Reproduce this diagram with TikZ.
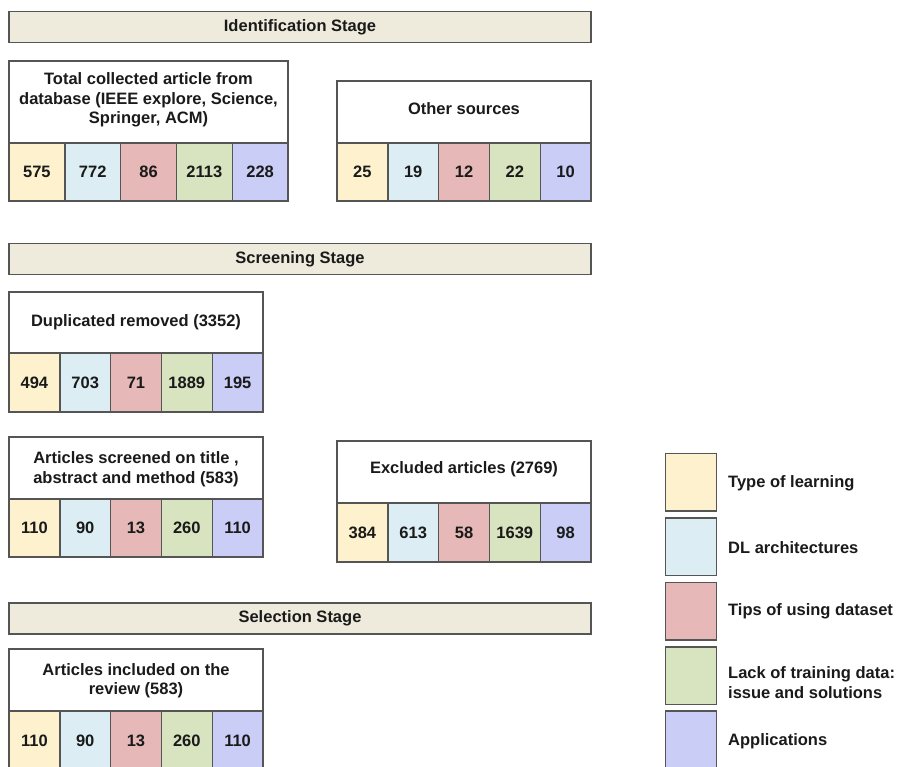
\documentclass[tikz,border=0pt]{standalone}
\usepackage{fontspec}
\setmainfont{Liberation Sans}
\definecolor{edge}{HTML}{555555}
\definecolor{ink}{HTML}{1A1A1A}
\definecolor{bannerfill}{HTML}{EEEBDD}
\definecolor{cat1}{HTML}{FEF2CE}
\definecolor{cat2}{HTML}{DCEEF4}
\definecolor{cat3}{HTML}{E6B8B7}
\definecolor{cat4}{HTML}{D8E4BF}
\definecolor{cat5}{HTML}{CACDF6}
% one row of five category counts: name, left x, top y, cell width, cell height, values
\newcommand\cellrow[6]{%
  \foreach \v [count=\k] in {#6}{%
    \node[cell, fill=cat\k, minimum width=#4pt, minimum height=#5pt] (#1-\k) at ({#2+(\k-1)*#4}, #3) {\v};
  }}
\begin{document}
\begin{tikzpicture}[x=1pt, y=-1pt,
  font=\bfseries\fontsize{16.5}{19.5}\selectfont,
  base/.style={draw=edge, line width=1.4pt, inner sep=0pt, outer sep=0pt, text=ink},
  banner/.style={base, fill=bannerfill, minimum width=582pt, minimum height=31pt, anchor=north west},
  head/.style={base, fill=white, anchor=north west},
  cell/.style={base, anchor=north west},
  lbl/.style={text=ink, align=center, inner sep=0pt},
  swatch/.style={base, minimum width=51pt, minimum height=57.5pt, anchor=north west},
  legtext/.style={text=ink, anchor=west, align=left, inner sep=0pt}]
\useasboundingbox (0,0) rectangle (901,767);
\fill[white] (0,0) rectangle (901,767);

% stage banners
\node[banner] (ident) at (9,11.5) {Identification Stage};
\node[banner] (screen) at (9,243.5) {Screening Stage};
\node[banner] (select) at (9,603) {Selection Stage};

% identification stage
\node[head, minimum width=279pt, minimum height=82pt] (total) at (9,61) {};
\node[lbl] (totaltxt) at (148.5,100) {Total collected article from\\database (IEEE explore, Science,\\Springer, ACM)};
\cellrow{total}{9}{143}{55.8}{58}{575,772,86,2113,228}

\node[head, minimum width=254pt, minimum height=62pt] (other) at (337,81) {};
\node[lbl] (othertxt) at (464,109) {Other sources};
\cellrow{other}{337}{143}{50.8}{58}{25,19,12,22,10}

% screening stage
\node[head, minimum width=254pt, minimum height=61pt] (dup) at (9,292) {};
\node[lbl] (duptxt) at (136,322) {Duplicated removed (3352)};
\cellrow{dup}{9}{353}{50.8}{59}{494,703,71,1889,195}

\node[head, minimum width=254pt, minimum height=62pt] (scr) at (9,437) {};
\node[lbl] (scrtxt) at (136,469) {Articles screened on title ,\\abstract and method (583)};
\cellrow{scr}{9}{499}{50.8}{58}{110,90,13,260,110}

\node[head, minimum width=254pt, minimum height=62pt] (exc) at (337,441) {};
\node[lbl] (exctxt) at (464,469) {Excluded articles (2769)};
\cellrow{exc}{337}{503}{50.8}{59}{384,613,58,1639,98}

% selection stage
\node[head, minimum width=254pt, minimum height=62pt] (inc) at (9,649) {};
\node[lbl] (inctxt) at (136,680.5) {Articles included on the\\review (583)};
\cellrow{inc}{9}{711}{50.8}{59}{110,90,13,260,110}

% legend
\node[swatch, fill=cat1] (leg1) at (665.5,453.5) {};
\node[swatch, fill=cat2] (leg2) at (665.5,518) {};
\node[swatch, fill=cat3] (leg3) at (665.5,582.5) {};
\node[swatch, fill=cat4] (leg4) at (665.5,647) {};
\node[swatch, fill=cat5] (leg5) at (665.5,711) {};
\node[legtext] (leg1txt) at (728,483) {Type of learning};
\node[legtext] (leg2txt) at (728,547.5) {DL architectures};
\node[legtext] (leg3txt) at (728,611.5) {Tips of using dataset};
\node[legtext] (leg4txt) at (728,682.5) {Lack of training data:\\issue and solutions};
\node[legtext] (leg5txt) at (728,741.5) {Applications};
\end{tikzpicture}
\end{document}
